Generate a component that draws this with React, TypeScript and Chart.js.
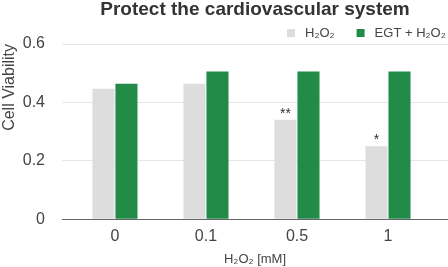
import React, { useEffect, useRef } from "react";
import { Chart, registerables } from "chart.js";

Chart.register(...registerables);

const categories = ["0", "0.1", "0.5", "1"];
const h2o2Values = [0.447, 0.464, 0.341, 0.25];
const egtValues = [0.464, 0.506, 0.506, 0.506];
const significance = ["", "", "**", "*"];
const yTicks = [0, 0.2, 0.4, 0.6];

const FONT = "'Liberation Sans', Arial, Helvetica, sans-serif";

export default function App() {
  const ref = useRef<HTMLCanvasElement | null>(null);

  useEffect(() => {
    if (!ref.current) return;
    const starPlugin = {
      id: "stars",
      afterDatasetsDraw(chart: any) {
        const meta = chart.getDatasetMeta(0);
        const ctx = chart.ctx;
        ctx.save();
        ctx.font = `14px ${FONT}`;
        ctx.fillStyle = "#333";
        ctx.textAlign = "center";
        ctx.textBaseline = "alphabetic";
        meta.data.forEach((bar: any, i: number) => {
          const s = significance[i];
          if (s) ctx.fillText(s, bar.x, bar.y - 2);
        });
        ctx.restore();
      },
    };
    const legendPlugin = {
      id: "customLegend",
      afterDraw(chart: any) {
        const ctx = chart.ctx;
        const area = chart.chartArea;
        ctx.save();
        ctx.font = `13px ${FONT}`;
        ctx.textBaseline = "middle";
        ctx.textAlign = "left";
        let x = area.right - 161;
        const y = area.top - 11;
        chart.data.datasets.forEach((ds: any) => {
          ctx.fillStyle = ds.backgroundColor;
          ctx.fillRect(x, y - 4, 8, 8);
          x += 18;
          ctx.fillStyle = "#444";
          ctx.fillText(ds.label, x, y + 0.5);
          x += ctx.measureText(ds.label).width + 22;
        });
        ctx.restore();
      },
    };
    const chart = new Chart(ref.current, {
      type: "bar",
      data: {
        datasets: [
          {
            label: "H₂O₂",
            data: h2o2Values.map((v, i) => ({ x: i, y: v })),
            backgroundColor: "#dcdddc",
            categoryPercentage: 0.505,
            barPercentage: 0.96,
          },
          {
            label: "EGT + H₂O₂",
            data: egtValues.map((v, i) => ({ x: i, y: v })),
            backgroundColor: "#238b48",
            categoryPercentage: 0.505,
            barPercentage: 0.96,
          },
        ],
      },
      options: {
        animation: false,
        responsive: true,
        maintainAspectRatio: false,
        layout: { padding: { left: 0, right: 0, top: 0, bottom: 0 } },
        plugins: {
          title: {
            display: true,
            text: "Protect the cardiovascular system",
            fullSize: false,
            color: "#333",
            font: { family: FONT, size: 19, weight: "bold" },
            padding: { top: -2, bottom: 23.2 },
          },
          legend: { display: false },
          tooltip: { enabled: false },
        },
        scales: {
          x: {
            type: "linear",
            min: -0.582,
            max: 3.659,
            offset: false,
            grid: { display: false, drawTicks: false },
            border: { display: true, color: "#666", width: 1 },
            ticks: {
              stepSize: 1,
              includeBounds: false,
              autoSkip: false,
              maxRotation: 0,
              padding: 8,
              color: "#444",
              font: { family: FONT, size: 16 },
              callback: (v: any) => categories[v as number] ?? "",
            },
            title: {
              display: true,
              text: "H₂O₂ [mM]",
              color: "#444",
              font: { family: FONT, size: 13 },
              padding: { top: -3, bottom: 0 },
            },
          },
          y: {
            min: 0,
            max: 0.6,
            grid: { color: "#e6e6e6", drawTicks: false },
            border: { display: false },
            afterBuildTicks: (axis: any) => {
              axis.ticks = yTicks.map((v) => ({ value: v }));
            },
            afterFit: (axis: any) => {
              axis.width = 62;
            },
            ticks: {
              padding: 17,
              color: "#444",
              font: { family: FONT, size: 16 },
              callback: (v: any) => String(v),
            },
            title: {
              display: true,
              text: "Cell Viability",
              align: "end",
              color: "#444",
              font: { family: FONT, size: 16 },
              padding: { top: 0, bottom: 0 },
            },
          },
        },
      },
      plugins: [starPlugin, legendPlugin],
    } as any);
    return () => chart.destroy();
  }, []);

  return (
    <div style={{ position: "fixed", left: 0, top: 0, width: 448, height: 267, background: "#fff" }}>
      <canvas ref={ref} />
    </div>
  );
}
